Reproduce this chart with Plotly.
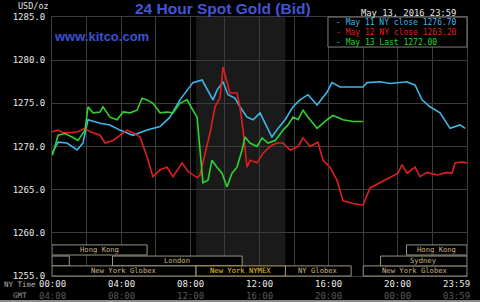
import plotly.graph_objects as go

# ---------------- data ----------------
may11_hours = [0, 0.35, 0.87, 1.45, 1.79, 2.08, 2.78, 3.35, 3.93, 4.68, 5.49, 6.25, 6.82, 7.4, 7.81,
               8.15, 8.68, 9.14, 9.31, 9.54, 9.89, 10.18, 10.58, 10.87, 11.28, 11.63, 12.03, 12.32,
               12.72, 13.07, 13.48, 13.94, 14.34, 14.81, 15.33, 15.91, 16.19, 16.66, 17.99, 18.22,
               18.97, 19.55, 20.53, 21.0, 21.4, 21.86, 22.44, 23.02, 23.6, 23.89]
may11_values = [1269.2, 1270.5, 1270.4, 1269.6, 1270.4, 1273.1, 1272.7, 1272.5, 1271.9, 1271.3, 1271.9,
                1272.3, 1273.4, 1275.4, 1276.5, 1277.4, 1277.7, 1276.0, 1275.4, 1276.5, 1277.5, 1276.0,
                1275.6, 1274.6, 1273.4, 1273.1, 1273.9, 1272.7, 1271.1, 1272.1, 1273.1, 1274.6, 1275.4,
                1276.0, 1274.8, 1276.3, 1277.4, 1276.9, 1276.9, 1277.4, 1277.5, 1277.3, 1277.5, 1277.1,
                1275.4, 1274.6, 1273.9, 1272.1, 1272.5, 1272.1]

may12_hours = [0, 0.35, 0.64, 1.04, 1.5, 1.91, 2.2, 2.78, 3.07, 3.53, 3.93, 4.34, 4.68, 5.09, 5.49,
               5.84, 6.25, 6.65, 7.0, 7.52, 7.87, 8.39, 8.56, 8.85, 9.14, 9.43, 9.72, 9.89, 10.12,
               10.29, 10.7, 10.87, 11.05, 11.28, 11.45, 11.86, 12.2, 12.61, 12.78, 13.01, 13.36,
               13.77, 14.23, 14.52, 14.92, 15.38, 15.67, 16.08, 16.48, 16.66, 16.83, 17.41, 17.99,
               18.39, 18.97, 19.55, 20.01, 20.24, 20.53, 21.0, 21.28, 21.69, 22.27, 22.85, 23.13,
               23.31, 23.71, 24.0]
may12_values = [1271.7, 1271.9, 1271.6, 1271.6, 1271.7, 1272.1, 1271.7, 1271.3, 1270.4, 1270.7, 1271.3,
                1271.9, 1271.6, 1271.1, 1268.8, 1266.5, 1267.3, 1267.6, 1266.5, 1268.1, 1267.1, 1266.4,
                1266.7, 1269.2, 1271.6, 1274.6, 1275.7, 1279.2, 1277.4, 1276.2, 1276.2, 1274.6, 1271.9,
                1267.6, 1268.4, 1268.1, 1269.2, 1270.0, 1270.2, 1270.4, 1270.4, 1269.6, 1270.0, 1271.0,
                1270.0, 1270.5, 1268.4, 1267.6, 1266.1, 1265.0, 1263.7, 1263.4, 1263.2, 1265.2, 1265.8,
                1266.4, 1266.9, 1267.9, 1266.9, 1267.6, 1266.5, 1267.0, 1266.7, 1267.0, 1266.9, 1268.1,
                1268.2, 1268.1]

may13_hours = [0, 0.06, 0.35, 0.75, 1.16, 1.5, 1.91, 2.08, 2.37, 2.78, 2.95, 3.35, 3.76, 4.11, 4.51,
               4.92, 5.21, 5.49, 5.84, 6.25, 6.65, 7.0, 7.4, 7.81, 8.15, 8.39, 8.56, 8.73, 9.02, 9.25,
               9.54, 9.83, 10.12, 10.41, 10.7, 10.99, 11.16, 11.45, 11.86, 12.15, 12.49, 12.9, 13.07,
               13.36, 13.65, 13.94, 14.23, 14.52, 14.81, 15.33, 15.91, 16.25, 16.83, 17.41, 17.99]
may13_values = [1269.0, 1269.2, 1271.3, 1271.5, 1271.1, 1270.7, 1271.9, 1274.6, 1273.9, 1274.0, 1274.6,
                1273.4, 1273.1, 1274.0, 1273.9, 1274.2, 1275.6, 1275.4, 1275.0, 1273.9, 1274.0, 1273.9,
                1275.0, 1275.4, 1274.2, 1273.4, 1269.6, 1265.8, 1266.1, 1268.4, 1267.6, 1266.9, 1265.3,
                1266.9, 1267.6, 1269.6, 1271.1, 1270.4, 1270.0, 1271.0, 1270.4, 1270.7, 1271.1, 1271.9,
                1272.5, 1273.4, 1273.1, 1274.2, 1273.4, 1272.1, 1273.1, 1273.6, 1273.1, 1272.9, 1272.9]

legend_labels = ["- May 11 NY close 1276.70", "- May 12 NY close 1263.20", "- May 13 Last 1272.00"]

y_ticks = [1255, 1260, 1265, 1270, 1275, 1280, 1285]
ny_tick_hours = [0, 4, 8, 12, 16, 20, 24]
ny_tick_labels = ["00:00", "04:00", "08:00", "12:00", "16:00", "20:00", "23:59"]
gmt_tick_labels = ["04:00", "08:00", "12:00", "16:00", "20:00", "00:00", "03:59"]

nymex_start, nymex_end = 8.33, 13.5

session_names = ["Hong Kong", "", "London", "New York Globex", "New York NYMEX", "NY Globex",
                 "New York Globex", "Sydney", "Hong Kong"]
session_starts = [0, 0, 3.5, 0, 8.33, 13.5, 18.0, 19.0, 20.5]
session_ends = [5.5, 1.0, 11.0, 8.33, 13.5, 17.3, 24.0, 24.0, 24.0]

# ---------------- styling / layout ----------------
row_of_session = [0, 1, 1, 2, 2, 2, 2, 1, 0]
row_bounds = [(0.081, 0.12), (0.039, 0.077), (0.0, 0.039)]
series_colors = ["#3fb6e8", "#e01f1f", "#2fd22f"]
grid = "#3c3c3c"
mono = "DejaVu Sans Mono"

fig = go.Figure()
for hrs, vals, col in [(may11_hours, may11_values, series_colors[0]),
                       (may12_hours, may12_values, series_colors[1]),
                       (may13_hours, may13_values, series_colors[2])]:
    fig.add_trace(go.Scatter(x=hrs, y=vals, mode="lines", line=dict(color=col, width=1.6),
                             showlegend=False, hoverinfo="skip"))

shapes = [dict(type="rect", xref="x", yref="paper", x0=nymex_start, x1=nymex_end, y0=0, y1=1,
               fillcolor="#1a1a1a", line=dict(width=0), layer="below")]
annotations = []

for name, s, e, r in zip(session_names, session_starts, session_ends, row_of_session):
    y0, y1 = row_bounds[r]
    is_nymex = "NYMEX" in name
    border = "#b8a060" if is_nymex else "#9a9480"
    shapes.append(dict(type="rect", xref="x", yref="paper", x0=s, x1=e, y0=y0, y1=y1,
                       fillcolor="black", line=dict(color=border, width=1), layer="above"))
    if name:
        annotations.append(dict(x=(s + e) / 2, y=(y0 + y1) / 2, xref="x", yref="paper",
                                text=name, showarrow=False, xanchor="center", yanchor="middle",
                                borderpad=0,
                                font=dict(family=mono, size=7.2,
                                          color="#e8c040" if is_nymex else "#c8b482")))

# legend box
shapes.append(dict(type="rect", xref="paper", yref="paper", x0=0.665, x1=1.0, y0=0.884, y1=1.0,
                   fillcolor="black", line=dict(color="#808080", width=1), layer="above"))
for i, (lab, col) in enumerate(zip(legend_labels, series_colors)):
    annotations.append(dict(x=0.68, y=[0.977, 0.942, 0.903][i], xref="paper", yref="paper",
                            xanchor="left", yanchor="middle", text=lab, showarrow=False,
                            font=dict(family=mono, size=8, color=col)))

# x labels
for h, ny, gmt in zip(ny_tick_hours, ny_tick_labels, gmt_tick_labels):
    xa = "right" if h == 24 else "center"
    xs = 5 if h == 24 else 0
    annotations.append(dict(x=h, y=-0.031, xref="x", yref="paper", text=ny, showarrow=False,
                            xanchor=xa, xshift=xs, yanchor="middle",
                            font=dict(family=mono, size=9, color="#e8e8e8")))
    annotations.append(dict(x=h, y=-0.077, xref="x", yref="paper", text=gmt, showarrow=False,
                            xanchor=xa, xshift=xs, yanchor="middle",
                            font=dict(family=mono, size=9, color="#5a5a5a")))

annotations += [
    dict(x=-0.12, y=-0.031, xref="paper", yref="paper", xanchor="left", yanchor="middle",
         text="NY Time", showarrow=False, font=dict(family=mono, size=7.5, color="#b0b0b0")),
    dict(x=-0.10, y=-0.077, xref="paper", yref="paper", xanchor="left", yanchor="middle",
         text="GMT", showarrow=False, font=dict(family=mono, size=7.5, color="#9a9a9a")),
    dict(x=-0.086, y=1.043, xref="paper", yref="paper", xanchor="left", yanchor="middle",
         text="USD/oz", showarrow=False, font=dict(family=mono, size=8.5, color="#e0e0e0")),
    dict(x=0.412, y=1.032, xref="paper", yref="paper", xanchor="center", yanchor="middle",
         text="<b>24 Hour Spot Gold (Bid)</b>", showarrow=False,
         font=dict(family="Liberation Sans", size=15.5, color="#4254d6")),
    dict(x=0.0, y=0.923, xref="paper", yref="paper", xanchor="left", yanchor="middle",
         text="<b>www.kitco.com</b>", showarrow=False,
         font=dict(family="Liberation Sans", size=13, color="#3d50d8")),
    dict(x=0.978, y=1.016, xref="paper", yref="paper", xanchor="right", yanchor="middle",
         text="May 13, 2016 23:59", showarrow=False,
         font=dict(family=mono, size=8.8, color="#e8e8e8")),
]

# outer bottom frame line
shapes.append(dict(type="line", xref="paper", yref="paper", x0=-0.13, x1=1.04, y0=-0.097, y1=-0.097,
                   line=dict(color="#bbbbbb", width=1.5), layer="above"))

fig.update_layout(
    width=480, height=302,
    margin=dict(l=52, r=13, t=17, b=26),
    paper_bgcolor="black", plot_bgcolor="black",
    shapes=shapes, annotations=annotations,
    xaxis=dict(range=[0, 24], tickvals=list(range(0, 25, 2)), showticklabels=False,
               showgrid=True, gridcolor=grid, gridwidth=1, zeroline=False,
               showline=True, linecolor=grid, mirror=True, ticks=""),
    yaxis=dict(range=[1255, 1285], tickvals=y_ticks, ticktext=[f"{v:.1f}" for v in y_ticks],
               showgrid=True, gridcolor=grid, gridwidth=1, zeroline=False,
               showline=True, linecolor=grid, mirror=True,
               ticks="outside", ticklen=4, tickcolor="black",
               tickfont=dict(family=mono, size=9, color="#e8e8e8")),
)

fig.write_html("out.html")
